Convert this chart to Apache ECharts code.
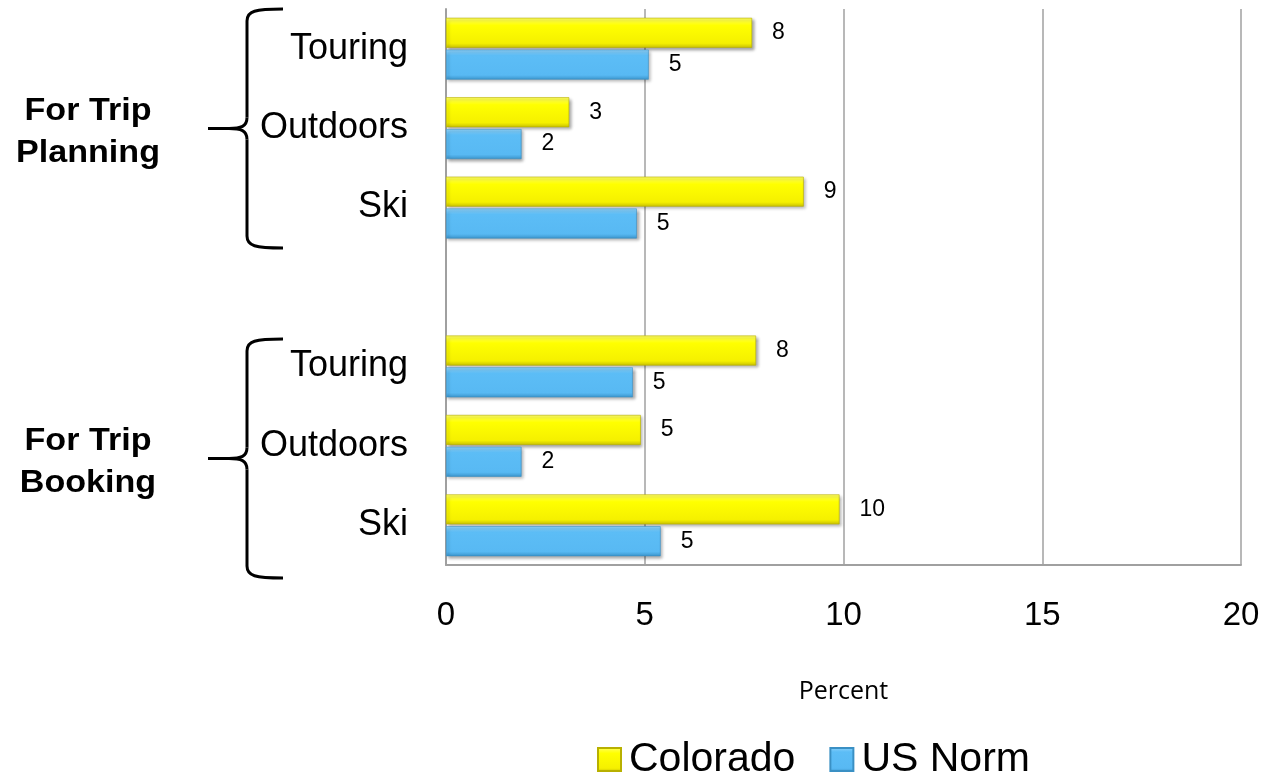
<!DOCTYPE html>
<html>
<head>
<meta charset="utf-8">
<title>Colorado vs US Norm</title>
<script src="https://cdn.jsdelivr.net/npm/echarts@6/dist/echarts.min.js"></script>
<style>
  html, body { margin: 0; padding: 0; background: #fff; }
  #chart { width: 1266px; height: 776px; }
</style>
</head>
<body>
<div id="chart"></div>
<script>
// categories top to bottom, blank slot separates the two groups
const categories = ['Touring', 'Outdoors', 'Ski', '', 'Touring', 'Outdoors', 'Ski']
const groupLabels = ['For Trip\nPlanning', 'For Trip\nBooking']
const colorado = [7.7, 3.1, 9.0, null, 7.8, 4.9, 9.9]
const usNorm = [5.1, 1.9, 4.8, null, 4.7, 1.9, 5.4]
const xTicks = [0, 5, 10, 15, 20]

const ARIAL = '"Liberation Sans", Arial, Helvetica, sans-serif'

const gradient = (stops) => ({
  type: 'linear', x: 0, y: 0, x2: 0, y2: 1,
  colorStops: stops.map(([offset, color]) => ({ offset, color })),
})
const yellow = gradient([[0, '#ffff66'], [0.25, '#ffff00'], [0.85, '#f5f000'], [1, '#c8c000']])
const blue = gradient([[0, '#8fd3fb'], [0.2, '#5cbdf6'], [0.85, '#58b9f3'], [1, '#3b95cc']])

const barLabel = {
  show: true,
  position: 'right',
  distance: 20,
  fontSize: 23,
  fontFamily: ARIAL,
  color: '#000',
  formatter: (p) => Math.round(p.value),
}

const stroke = { stroke: '#000', lineWidth: 3, fill: null }
const curve = (x1, y1, cx1, cy1, cx2, cy2, x2, y2) => ({
  type: 'bezierCurve',
  shape: { x1, y1, cpx1: cx1, cpy1: cy1, cpx2: cx2, cpy2: cy2, x2, y2 },
  style: stroke,
})
const seg = (x1, y1, x2, y2) => ({ type: 'line', shape: { x1, y1, x2, y2 }, style: stroke })

// curly brace from y0 to y1, tip pointing left
function brace(y0, y1) {
  const xr = 283, xv = 247, xt = 208
  const ym = (y0 + y1) / 2
  return {
    type: 'group',
    children: [
      curve(xr, y0, xv + 8, y0, xv, y0 + 2, xv, y0 + 12),
      seg(xv, y0 + 12, xv, ym - 11),
      curve(xv, ym - 11, xv, ym - 2, xv - 6, ym, xv - 18, ym),
      seg(xv - 18, ym, xt, ym),
      curve(xv - 18, ym, xv - 6, ym, xv, ym + 2, xv, ym + 11),
      seg(xv, ym + 11, xv, y1 - 12),
      curve(xv, y1 - 12, xv, y1 - 2, xv + 8, y1, xr, y1),
    ],
  }
}

function groupText(text, y) {
  return {
    type: 'text',
    x: 88,
    y: y,
    scaleX: 1.1,
    style: {
      text: text,
      font: 'bold 31px ' + ARIAL,
      fill: '#000',
      align: 'center',
      verticalAlign: 'middle',
      lineHeight: 42,
    },
  }
}

const options = {
  animation: false,
  backgroundColor: '#fff',
  grid: { left: 446, right: 25, top: 9, bottom: 211, containLabel: false },
  legend: {
    left: 597,
    top: 739,
    padding: 0,
    icon: 'rect',
    itemWidth: 23,
    itemHeight: 23,
    itemGap: 34,
    textStyle: { fontSize: 41, fontFamily: ARIAL, color: '#000', padding: [0, 0, 0, 3] },
    data: ['Colorado', 'US Norm'],
  },
  xAxis: {
    type: 'value',
    min: 0,
    max: 20,
    interval: 5,
    name: 'Percent',
    nameLocation: 'middle',
    nameGap: 114,
    nameTextStyle: { fontSize: 25, fontFamily: '"Open Sans", sans-serif', color: '#000' },
    axisLine: { show: true, lineStyle: { color: '#a0a0a0', width: 2 } },
    axisTick: { show: false },
    axisLabel: {
      fontSize: 33,
      margin: 34,
      color: '#000',
      fontFamily: ARIAL,
      formatter: (v) => (xTicks.includes(v) ? String(v) : ''),
    },
    splitLine: { show: true, lineStyle: { color: '#a0a0a0', width: 1.5 } },
  },
  yAxis: {
    type: 'category',
    inverse: true,
    data: categories,
    axisLine: { show: true, lineStyle: { color: '#a0a0a0', width: 2 } },
    axisTick: { show: false },
    axisLabel: {
      fontSize: 36,
      margin: 38,
      color: '#000',
      fontFamily: ARIAL,
    },
  },
  series: [
    {
      name: 'Colorado',
      type: 'bar',
      data: colorado,
      barWidth: 30,
      barGap: '6%',
      itemStyle: {
        color: yellow,
        borderColor: '#b8b000',
        borderWidth: 0.6,
        shadowBlur: 3,
        shadowOffsetX: 2,
        shadowOffsetY: 2,
        shadowColor: 'rgba(0,0,0,0.35)',
      },
      label: barLabel,
    },
    {
      name: 'US Norm',
      type: 'bar',
      data: usNorm,
      barWidth: 30,
      itemStyle: {
        color: blue,
        borderColor: '#3a90c4',
        borderWidth: 0.6,
        shadowBlur: 3,
        shadowOffsetX: 2,
        shadowOffsetY: 2,
        shadowColor: 'rgba(0,0,0,0.35)',
      },
      label: barLabel,
    },
  ],
  graphic: [
    brace(9, 248),
    brace(339, 578),
    groupText(groupLabels[0], 132),
    groupText(groupLabels[1], 462),
  ],
}

const chart = echarts.init(document.getElementById('chart'), null, { renderer: 'canvas' })
chart.setOption(options)
</script>
</body>
</html>
